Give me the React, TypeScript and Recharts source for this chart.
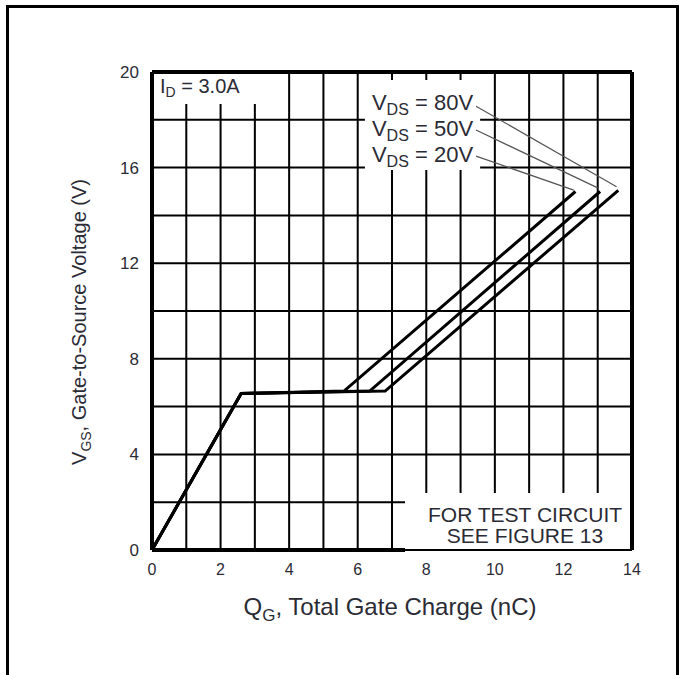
import React from 'react';
import { LineChart, Line, XAxis, YAxis, CartesianGrid, ReferenceArea, ReferenceLine, Label } from 'recharts';

// Gate charge curves (QG in nC, VGS in V) for each VDS
const qg20 = [0, 2.6, 5.6, 12.35];
const vgs20 = [0, 6.55, 6.65, 15.0];
const qg50 = [0, 2.6, 6.35, 13.07];
const vgs50 = [0, 6.55, 6.65, 15.0];
const qg80 = [0, 2.6, 6.8, 13.6];
const vgs80 = [0, 6.55, 6.65, 15.05];

// Axis ticks
const xTicks = [0, 1, 2, 3, 4, 5, 6, 7, 8, 9, 10, 11, 12, 13, 14];
const xTickLabels = ['0', '', '2', '', '4', '', '6', '', '8', '', '10', '', '12', '', '14'];
const yTicks = [0, 2, 4, 6, 8, 10, 12, 14, 16, 18, 20];
const yTickLabels = ['0', '', '4', '', '8', '', '12', '', '16', '', '20'];

// Series labels and leader lines (label end -> curve end)
const vdsLabels = ['80V', '50V', '20V'];
const leaderFromQ = [9.45, 9.45, 9.45];
const leaderFromV = [18.57, 17.57, 16.48];
const leaderToQ = [13.55, 13.0, 12.3];
const leaderToV = [15.2, 15.15, 15.06];

const toPts = (q: number[], v: number[]) => q.map((x, i) => ({ q: x, v: v[i] }));
const d20 = toPts(qg20, vgs20);
const d50 = toPts(qg50, vgs50);
const d80 = toPts(qg80, vgs80);

const FONT = 'Liberation Sans, Arial, Helvetica, sans-serif';
const TXT = '#2b2b35';

const IdLabel = (props: any) => {
  const { x, y } = props.viewBox;
  return (
    <text x={x + 8} y={y + 21} fontFamily={FONT} fontSize={20} fill={TXT}>
      I<tspan fontSize={14} dy={4}>D</tspan>
      <tspan dy={-4}> = 3.0A</tspan>
    </text>
  );
};

const VdsLabel = (props: any) => {
  const { x, y } = props.viewBox;
  return (
    <g>
      {vdsLabels.map((lab, i) => (
        <text key={lab} x={x + 7} y={y + 30 + i * 26} fontFamily={FONT} fontSize={22} fill={TXT}>
          V<tspan fontSize={16} dy={5}>DS</tspan>
          <tspan dy={-5}> = {lab}</tspan>
        </text>
      ))}
    </g>
  );
};

const TestLabel = (props: any) => {
  const { x, y } = props.viewBox;
  return (
    <g>
      <text x={x + 120} y={y + 29} textAnchor="middle" fontFamily={FONT} fontSize={21} fill={TXT}>
        FOR TEST CIRCUIT
      </text>
      <text x={x + 120} y={y + 50} textAnchor="middle" fontFamily={FONT} fontSize={21} fill={TXT}>
        SEE FIGURE 13
      </text>
    </g>
  );
};

const XTitle = (props: any) => {
  const { x, y, width } = props.viewBox;
  return (
    <text x={x + width / 2 - 2} y={y + 65} textAnchor="middle" fontFamily={FONT} fontSize={24} fill={TXT}>
      Q<tspan fontSize={17} dy={6}>G</tspan>
      <tspan dy={-6}>, Total Gate Charge (nC)</tspan>
    </text>
  );
};

const YTitle = (props: any) => {
  const { x, y, height } = props.viewBox;
  const cx = x - 6;
  const cy = y + height / 2 + 11;
  return (
    <text
      x={cx}
      y={cy}
      transform={`rotate(-90, ${cx}, ${cy})`}
      textAnchor="middle"
      fontFamily={FONT}
      fontSize={20}
      fill={TXT}
    >
      V<tspan fontSize={14} dy={5}>GS</tspan>
      <tspan dy={-5}>, Gate-to-Source Voltage (V)</tspan>
    </text>
  );
};

export default function App() {
  return (
    <div style={{ position: 'absolute', left: 0, top: 0, width: 683, height: 675, background: '#fff', overflow: 'hidden' }}>
      <div
        style={{
          position: 'absolute',
          left: 6,
          top: 5,
          width: 673,
          height: 720,
          border: '3px solid #000',
          boxSizing: 'border-box',
        }}
      />
      <div style={{ position: 'absolute', left: 0, top: 0 }}>
        <LineChart width={683} height={675} margin={{ top: 72, right: 51, left: 92, bottom: 85 }}>
          <CartesianGrid stroke="#000" strokeWidth={2} strokeOpacity={1} />
          <XAxis
            type="number"
            dataKey="q"
            domain={[0, 14]}
            ticks={xTicks}
            interval={0}
            tickFormatter={(v: number) => xTickLabels[xTicks.indexOf(v)]}
            axisLine={false}
            tickLine={false}
            tickSize={0}
            tickMargin={14}
            height={40}
            tick={{ fontFamily: FONT, fontSize: 16, fill: TXT }}
            allowDecimals={false}
          >
            <Label content={XTitle} />
          </XAxis>
          <YAxis
            type="number"
            dataKey="v"
            domain={[0, 20]}
            ticks={yTicks}
            interval={0}
            tickFormatter={(v: number) => yTickLabels[yTicks.indexOf(v)]}
            axisLine={false}
            tickLine={false}
            tickSize={0}
            tickMargin={13}
            width={60}
            tick={{ fontFamily: FONT, fontSize: 17, fill: TXT }}
          >
            <Label content={YTitle} />
          </YAxis>

          <ReferenceArea x1={0} x2={3.2} y1={18.66} y2={20} fill="#fff" fillOpacity={1} stroke="none" label={<IdLabel />} />
          <ReferenceArea x1={6.21} x2={9.57} y1={15.9} y2={19.67} fill="#fff" fillOpacity={1} stroke="none" label={<VdsLabel />} />
          <ReferenceArea x1={7.38} x2={14} y1={0} y2={2.38} fill="#fff" fillOpacity={1} stroke="none" label={<TestLabel />} />

          {vdsLabels.map((lab, i) => (
            <ReferenceLine
              key={'leader' + lab}
              segment={[
                { x: leaderFromQ[i], y: leaderFromV[i] },
                { x: leaderToQ[i], y: leaderToV[i] },
              ]}
              stroke="#555"
              strokeWidth={1.2}
            />
          ))}

          <ReferenceLine segment={[{ x: 0, y: 20 }, { x: 14, y: 20 }]} stroke="#000" strokeWidth={4} />
          <ReferenceLine segment={[{ x: 0, y: 0 }, { x: 0, y: 20 }]} stroke="#000" strokeWidth={4} />
          <ReferenceLine segment={[{ x: 14, y: 0 }, { x: 14, y: 20 }]} stroke="#000" strokeWidth={4} />
          <ReferenceLine segment={[{ x: 0, y: 0 }, { x: 7.38, y: 0 }]} stroke="#000" strokeWidth={4} />
          <ReferenceLine segment={[{ x: 7.38, y: 0 }, { x: 14, y: 0 }]} stroke="#000" strokeWidth={2} />

          <Line data={d20} dataKey="v" stroke="#000" strokeWidth={3} dot={false} isAnimationActive={false} />
          <Line data={d50} dataKey="v" stroke="#000" strokeWidth={3} dot={false} isAnimationActive={false} />
          <Line data={d80} dataKey="v" stroke="#000" strokeWidth={3} dot={false} isAnimationActive={false} />
        </LineChart>
      </div>
    </div>
  );
}
